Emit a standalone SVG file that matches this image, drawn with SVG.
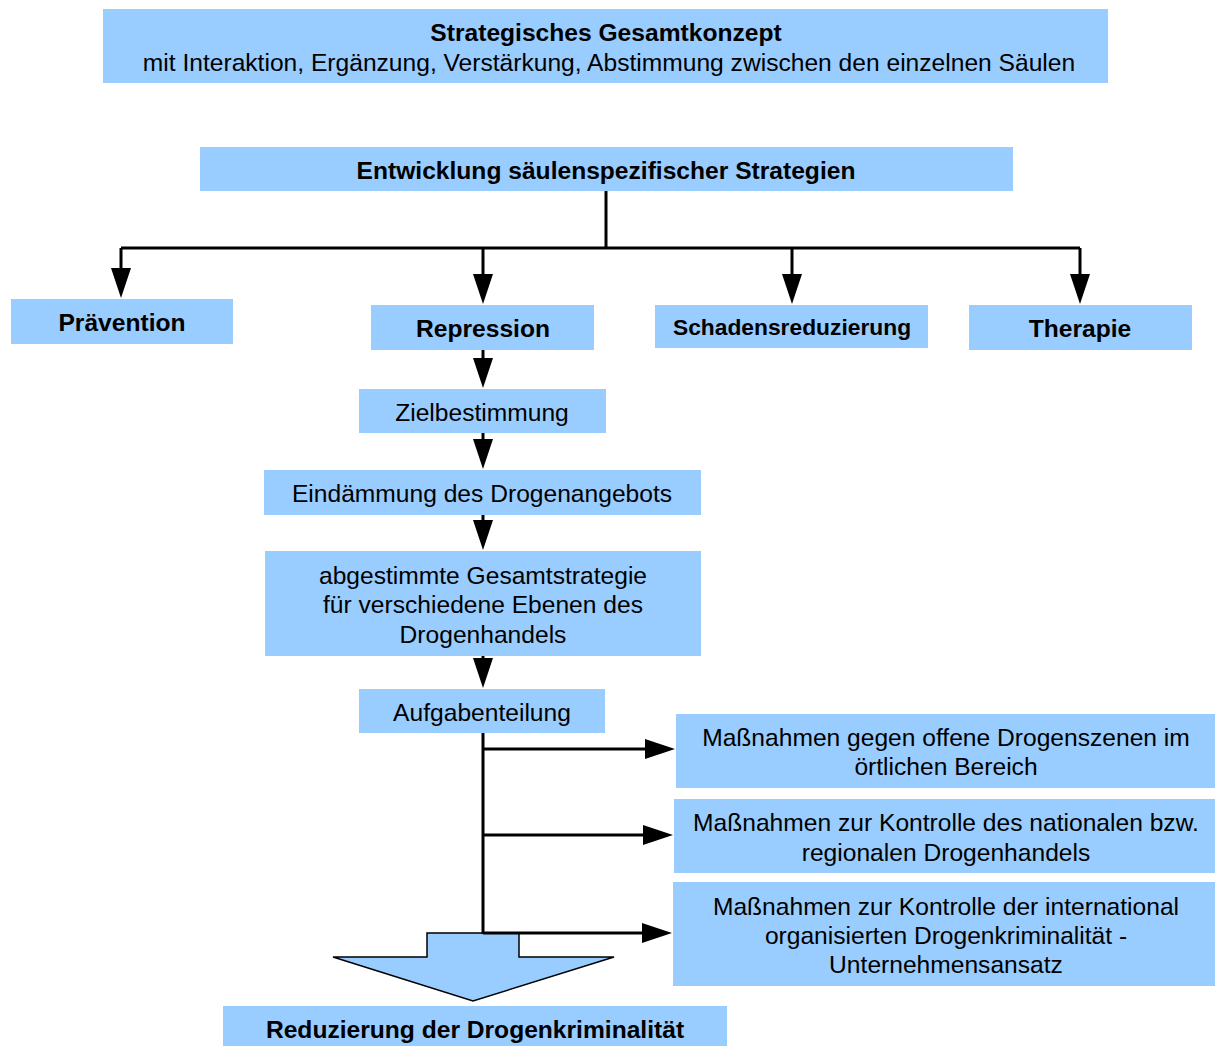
<svg xmlns="http://www.w3.org/2000/svg" width="1215" height="1046" viewBox="0 0 1215 1046">
<defs>
<style>
.box{fill:#99CCFF;stroke:none}
.t{font-family:"Liberation Sans",Arial,sans-serif;font-size:24.6px;fill:#000;text-anchor:middle}
.b{font-weight:bold;font-size:24.6px}
.c{fill:none;stroke:#000;stroke-width:3}
</style>
<marker id="ah" markerUnits="userSpaceOnUse" markerWidth="30" markerHeight="20" refX="20" refY="10" orient="auto">
<path d="M0,0 L30,10 L0,20 z" fill="#000"/>
</marker>
</defs>
<rect width="1215" height="1046" fill="#fff"/>
<g id="n-gesamt"><rect class="box" x="103" y="9" width="1005" height="74"/>
<text class="t b" x="606" y="41">Strategisches Gesamtkonzept</text>
<text class="t" x="609" y="71">mit Interaktion, Ergänzung, Verstärkung, Abstimmung zwischen den einzelnen Säulen</text></g>
<g id="n-entw"><rect class="box" x="200" y="147" width="813" height="44"/>
<text class="t b" x="606" y="179">Entwicklung säulenspezifischer Strategien</text></g>
<g id="n-praev"><rect class="box" x="11" y="299" width="222" height="45"/>
<text class="t b" x="122" y="331">Prävention</text></g>
<g id="n-repr"><rect class="box" x="371" y="305" width="223" height="45"/>
<text class="t b" x="483" y="337">Repression</text></g>
<g id="n-schaden"><rect class="box" x="655" y="305" width="273" height="43"/>
<text class="t b" x="792" y="335" style="font-size:22.8px">Schadensreduzierung</text></g>
<g id="n-therapie"><rect class="box" x="969" y="305" width="223" height="45"/>
<text class="t b" x="1080" y="337">Therapie</text></g>
<g id="n-ziel"><rect class="box" x="359" y="389" width="247" height="44"/>
<text class="t" x="482" y="421">Zielbestimmung</text></g>
<g id="n-eind"><rect class="box" x="264" y="470" width="437" height="45"/>
<text class="t" x="482" y="502">Eindämmung des Drogenangebots</text></g>
<g id="n-abg"><rect class="box" x="265" y="551" width="436" height="105"/>
<text class="t" x="483" y="584">abgestimmte Gesamtstrategie</text>
<text class="t" x="483" y="613">für verschiedene Ebenen des</text>
<text class="t" x="483" y="643">Drogenhandels</text></g>
<g id="n-aufg"><rect class="box" x="359" y="689" width="246" height="44"/>
<text class="t" x="482" y="721">Aufgabenteilung</text></g>
<g id="n-m1"><rect class="box" x="676" y="714" width="539" height="74"/>
<text class="t" x="946" y="746">Maßnahmen gegen offene Drogenszenen im</text>
<text class="t" x="946" y="775">örtlichen Bereich</text></g>
<g id="n-m2"><rect class="box" x="674" y="799" width="541" height="74"/>
<text class="t" x="946" y="831">Maßnahmen zur Kontrolle des nationalen bzw.</text>
<text class="t" x="946" y="861">regionalen Drogenhandels</text></g>
<g id="n-m3"><rect class="box" x="673" y="882" width="542" height="104"/>
<text class="t" x="946" y="915">Maßnahmen zur Kontrolle der international</text>
<text class="t" x="946" y="944">organisierten Drogenkriminalität -</text>
<text class="t" x="946" y="973">Unternehmensansatz</text></g>
<g id="n-bigarrow"><path d="M427,933 L519,933 L519,957 L614,957 L473,1001 L333,957 L427,957 Z" fill="#99CCFF" stroke="#000" stroke-width="1.5"/></g>
<g id="n-reduz"><rect class="box" x="223" y="1006" width="504" height="40"/>
<text class="t b" x="475" y="1038">Reduzierung der Drogenkriminalität</text></g>
<g id="connectors">
<path class="c" d="M606,191 L606,248"/>
<path class="c" d="M121,248 L1080,248"/>
<path class="c" d="M121,248 L121,288" marker-end="url(#ah)"/>
<path class="c" d="M483,248 L483,294" marker-end="url(#ah)"/>
<path class="c" d="M792,248 L792,294" marker-end="url(#ah)"/>
<path class="c" d="M1080,248 L1080,294" marker-end="url(#ah)"/>
<path class="c" d="M483,350 L483,378" marker-end="url(#ah)"/>
<path class="c" d="M483,433 L483,459" marker-end="url(#ah)"/>
<path class="c" d="M483,515 L483,540" marker-end="url(#ah)"/>
<path class="c" d="M483,656 L483,678" marker-end="url(#ah)"/>
<path class="c" d="M483,733 L483,934"/>
<path class="c" d="M483,749 L665,749" marker-end="url(#ah)"/>
<path class="c" d="M483,835 L663,835" marker-end="url(#ah)"/>
<path class="c" d="M483,933 L662,933" marker-end="url(#ah)"/>
</g>
</svg>
